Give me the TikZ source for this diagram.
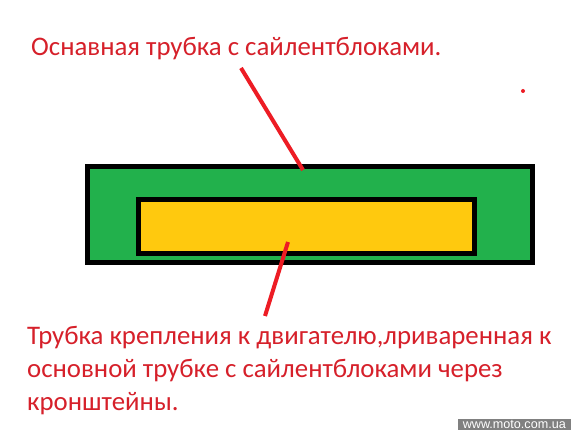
\documentclass[tikz,border=0pt]{standalone}
\usepackage{fontspec}
\setmainfont{Carlito}
\newfontfamily\markfont{Liberation Sans}
\usetikzlibrary{positioning,calc}
\definecolor{tubegreen}{RGB}{34,177,76}
\definecolor{tubegold}{RGB}{255,201,14}
\definecolor{notered}{RGB}{237,28,36}
\definecolor{notetext}{RGB}{214,32,42}

\begin{document}
\begin{tikzpicture}[x=1pt, y=-1pt,
    tube/.style={draw=black, line width=5pt, inner sep=0pt},
    note/.style={text=notetext, font=\fontsize{26.8}{33}\selectfont, inner sep=0pt, align=left},
    pointer/.style={draw=notered, line width=4pt}]
  \useasboundingbox (0,0) rectangle (573,430);
  \fill[white] (0,0) rectangle (573,430);
  % tubes
  \node[tube, fill=tubegreen, minimum width=445pt, minimum height=96pt, anchor=north west] (outer) at (84.5,164.5) {};
  \node[tube, fill=tubegold, minimum width=336pt, minimum height=54pt, anchor=north west] (inner) at (135.5,197.5) {};
  % labels
  \node[note, anchor=base west] (toplabel) at (31,56) {Оснавная трубка с сайлентблоками.};
  \node[note, anchor=base west] (botlabel) at (27,410)
    {Трубка крепления к двигателю,лриваренная к\\основной трубке с сайлентблоками через\\кронштейны.};
  \coordinate (topfrom) at (241,68);
  \coordinate (topto) at (303,170);
  \coordinate (botfrom) at (288,242);
  \coordinate (botto) at (265,316);
  \draw[pointer] (topfrom) -- (topto);
  \draw[pointer] (botfrom) -- (botto);
  \fill[notered] (523,91) circle (2pt);
  % watermark
  \node[fill=black!50, text=white, font=\markfont\fontsize{12.6}{12}\selectfont, inner sep=0pt, minimum width=113pt, minimum height=11pt, anchor=south east] (mark) at (571,430) {www.moto.com.ua};
\end{tikzpicture}
\end{document}
